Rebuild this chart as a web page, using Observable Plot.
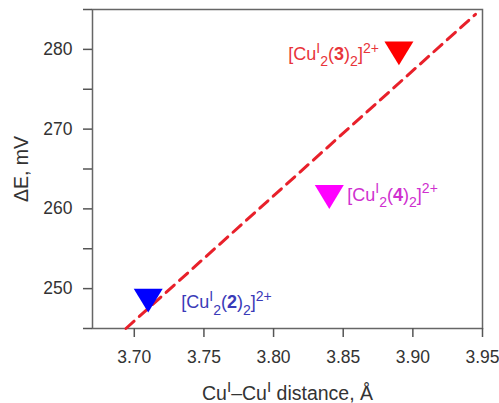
<!DOCTYPE html>
<html>
<head>
<meta charset="utf-8">
<script src="https://cdn.jsdelivr.net/npm/d3@7"></script>
<script src="https://cdn.jsdelivr.net/npm/@observablehq/plot@0.6"></script>
<style>
  html, body { margin: 0; padding: 0; background: #fff; }
  #chart svg { display: block; }
</style>
</head>
<body>
<div id="chart"></div>
<script>
// Complexes and their measured values
const complexes = ["[Cu^{I}_{2}(*2*)_{2}]^{2+}", "[Cu^{I}_{2}(*4*)_{2}]^{2+}", "[Cu^{I}_{2}(*3*)_{2}]^{2+}"];
const distance = [3.71, 3.84, 3.89];        // Cu–Cu distance, Å
const deltaE = [249, 262, 280];             // ΔE, mV
const markerColors = ["#0000ff", "#ff00ff", "#ff0000"];
const labelColors = ["#3a3ab8", "#cf30cf", "#e8343a"];

// Linear fit drawn as a dashed line
const fitDistance = [3.694, 3.945];
const fitDeltaE = [245, 284.4];

// Axis ticks
const xTicks = [3.70, 3.75, 3.80, 3.85, 3.90, 3.95];
const yTicks = [245, 250, 255, 260, 265, 270, 275, 280, 285];

const points = complexes.map((name, i) => ({
  name, distance: distance[i], deltaE: deltaE[i],
  marker: markerColors[i], label: labelColors[i]
}));
const fit = fitDistance.map((d, i) => ({distance: d, deltaE: fitDeltaE[i]}));

// Downward-pointing triangle, centred on its centroid
const triangleDown = {
  draw(context, size) {
    const r = Math.sqrt(size / Math.PI);
    context.moveTo(-r, -0.55 * r);
    context.lineTo(r, -0.55 * r);
    context.lineTo(0, 1.1 * r);
    context.closePath();
  }
};

// Label placement around each marker
const labelAnchor = ["start", "start", "end"];
const labelDx = [33, 18, -20];
const labelDy = [6, 2, 5];

const chart = Plot.plot({
  width: 499,
  height: 403,
  marginLeft: 92,
  marginRight: 17,
  marginTop: 9,
  marginBottom: 75,
  style: {fontFamily: "Liberation Sans, Arial, sans-serif", fontSize: "17.5px", color: "#333", background: "#fff"},
  x: {domain: [3.67, 3.95]},
  y: {domain: [245, 285]},
  marks: [
    Plot.frame({stroke: "#666", strokeWidth: 1.5}),
    Plot.axisX({ticks: xTicks, tickSize: 9, tickPadding: 13, tickFormat: d => d.toFixed(2),
      stroke: "#555", strokeWidth: 1.5, label: null, fill: "#333"}),
    Plot.axisY({ticks: yTicks, tickSize: 9, tickPadding: 11, tickFormat: d => d % 10 === 0 ? String(d) : "",
      stroke: "#555", strokeWidth: 1.5, label: null, fill: "#333"}),
    Plot.line(fit, {x: "distance", y: "deltaE", stroke: "#e8202a", strokeWidth: 3, strokeDasharray: "11,7"}),
    Plot.dot(points, {x: "distance", y: "deltaE", symbol: triangleDown, r: 14.5, fill: "marker", stroke: "none"}),
    ...points.map((p, i) => Plot.text([p], {
      x: "distance", y: "deltaE", text: "name", fill: "label",
      textAnchor: labelAnchor[i], dx: labelDx[i], dy: labelDy[i], fontSize: 18
    })),
    Plot.text(["Cu^{I}–Cu^{I} distance, Å"], {frameAnchor: "bottom", textAnchor: "middle", lineAnchor: "middle",
      dy: 65, fontSize: 19.5, fill: "#333"}),
    Plot.text(["ΔE, mV"], {frameAnchor: "left", textAnchor: "middle", lineAnchor: "middle",
      dx: -71, rotate: -90, fontSize: 19.5, fill: "#333"})
  ]
});

// Turn ^{..} superscripts, _{..} subscripts and *..* bold into tspans
function richText(el) {
  const s = el.textContent;
  if (!/[\^_*]/.test(s)) return;
  const fs = parseFloat(el.getAttribute("font-size") || el.parentNode.getAttribute("font-size") || 16);
  el.textContent = "";
  const re = /\^\{([^}]*)\}|_\{([^}]*)\}|\*([^*]*)\*|([^\^_*]+)/g;
  let m, cur = 0;
  while ((m = re.exec(s))) {
    const t = document.createElementNS("http://www.w3.org/2000/svg", "tspan");
    let target = 0;
    if (m[1] !== undefined) { target = -0.4 * fs; t.textContent = m[1]; t.setAttribute("font-size", (0.78 * fs) + "px"); }
    else if (m[2] !== undefined) { target = 0.35 * fs; t.textContent = m[2]; t.setAttribute("font-size", (0.78 * fs) + "px"); }
    else if (m[3] !== undefined) { t.textContent = m[3]; t.setAttribute("font-weight", "bold"); }
    else { t.textContent = m[4]; }
    if (target !== cur) { t.setAttribute("dy", (target - cur) + "px"); cur = target; }
    el.appendChild(t);
  }
}
d3.select(chart).selectAll("text").each(function () { richText(this); });

document.getElementById("chart").appendChild(chart);
</script>
</body>
</html>
